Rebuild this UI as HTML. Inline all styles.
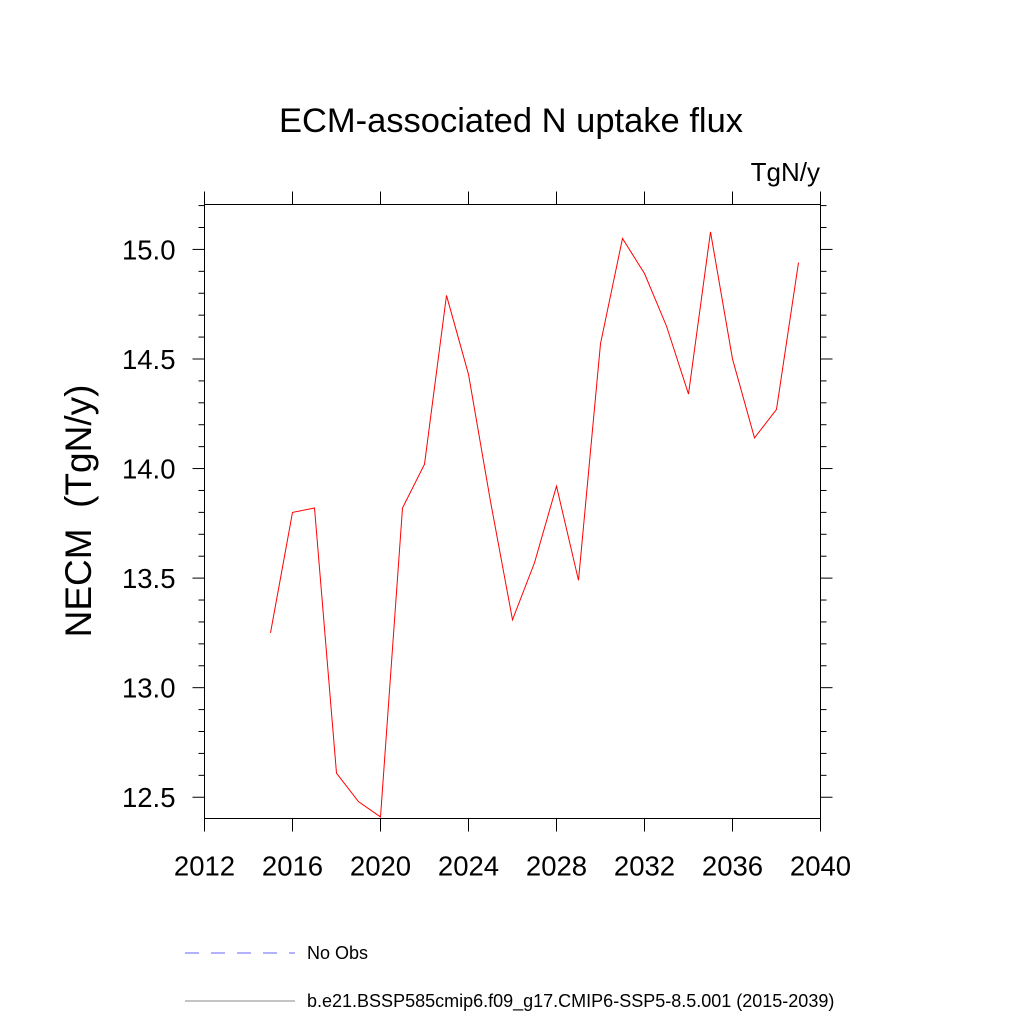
<!DOCTYPE html>
<html><head><meta charset="utf-8"><style>body{margin:0;background:#fff}</style></head>
<body>
<svg id="chart" width="1024" height="1024" xmlns="http://www.w3.org/2000/svg" font-family="Liberation Sans, sans-serif">
<text x="511" y="132" font-size="34.5" text-anchor="middle">ECM-associated N uptake flux</text>
<text x="820" y="181" font-size="26" text-anchor="end">TgN/y</text>
<text transform="translate(91,511) rotate(-90)" font-size="37" text-anchor="middle" xml:space="preserve" style="white-space:pre">NECM  (TgN/y)</text>
<g id="axes"></g>
<g>
<line x1="185" y1="953" x2="295" y2="953" stroke="#6666ff" stroke-dasharray="14,12" stroke-width="1"/>
<text x="307" y="959" font-size="18">No Obs</text>
<line x1="185" y1="1001" x2="295" y2="1001" stroke="#888" stroke-width="1"/>
<text x="307" y="1007" font-size="18">b.e21.BSSP585cmip6.f09_g17.CMIP6-SSP5-8.5.001 (2015-2039)</text>
</g>
</svg>
<script>
const years=[2015,2016,2017,2018,2019,2020,2021,2022,2023,2024,2025,2026,2027,2028,2029,2030,2031,2032,2033,2034,2035,2036,2037,2038,2039];
const values=[13.25,13.80,13.82,12.61,12.48,12.41,13.82,14.02,14.79,14.43,13.85,13.31,13.57,13.92,13.49,14.57,15.05,14.89,14.65,14.34,15.08,14.50,14.14,14.27,14.94];
const xTicks=[2012,2016,2020,2024,2028,2032,2036,2040];
const yTicks=[12.5,13.0,13.5,14.0,14.5,15.0];
const X0=204.5,X1=820.5,Y0=818.5,Y1=204.5,xmin=2012,xmax=2040,ymin=12.403,ymax=15.205;
const sx=v=>X0+(v-xmin)/(xmax-xmin)*(X1-X0);
const sy=v=>Y0-(v-ymin)/(ymax-ymin)*(Y0-Y1);
const g=document.getElementById('axes');
const NS='http://www.w3.org/2000/svg';
function ln(x1,y1,x2,y2,c,w){const l=document.createElementNS(NS,'line');l.setAttribute('x1',x1);l.setAttribute('y1',y1);l.setAttribute('x2',x2);l.setAttribute('y2',y2);l.setAttribute('stroke',c||'#000');l.setAttribute('stroke-width',w||1);g.appendChild(l);return l;}
const fr=document.createElementNS(NS,'rect');
fr.setAttribute('x',X0);fr.setAttribute('y',Y1);fr.setAttribute('width',X1-X0);fr.setAttribute('height',Y0-Y1);fr.setAttribute('fill','none');fr.setAttribute('stroke','#000');


g.appendChild(fr);
xTicks.forEach(t=>{const x=sx(t);
let a=ln(x,Y0,x,Y0+13);


let b=ln(x,Y1,x,Y1-13);


const tx=document.createElementNS(NS,'text');tx.setAttribute('x',x);tx.setAttribute('y',Y0+57);tx.setAttribute('font-size','27.5');tx.setAttribute('text-anchor','middle');tx.textContent=t;


g.appendChild(tx);});
for(let i=124;i<=152;i++){const v=i/10;const y=sy(v);if(y<Y1-0.5||y>Y0+0.5)continue;const major=Math.abs(v*2-Math.round(v*2))<1e-6;const L=major?12:6;
let a=ln(X0-L,y,X0,y);


let b=ln(X1,y,X1+L,y);

}
yTicks.forEach(t=>{const tx=document.createElementNS(NS,'text');tx.setAttribute('x',X0-29);tx.setAttribute('y',sy(t)+10);tx.setAttribute('font-size','27.5');tx.setAttribute('text-anchor','end');tx.textContent=t.toFixed(1);


g.appendChild(tx);});
const p=document.createElementNS(NS,'polyline');
p.setAttribute('points',years.map((y,i)=>sx(y)+','+sy(values[i])).join(' '));
p.setAttribute('fill','none');p.setAttribute('stroke','#ff0000');p.setAttribute('stroke-width','1');


g.appendChild(p);
</script>
</body></html>
